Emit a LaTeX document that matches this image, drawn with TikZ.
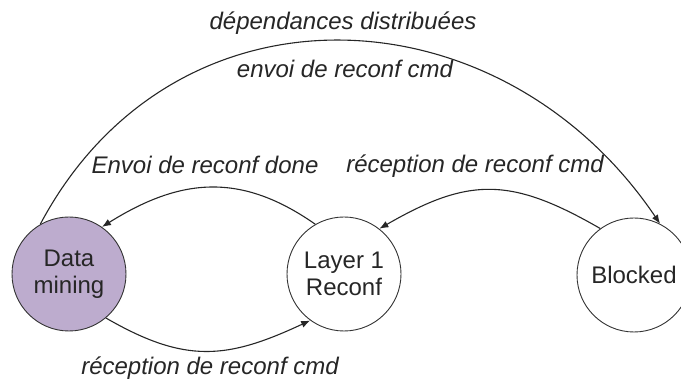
\documentclass[tikz,border=0pt]{standalone}
\usepackage{fontspec}
\setmainfont{Liberation Sans}
\usepackage{xcolor}
\usetikzlibrary{arrows.meta}
\definecolor{mauve}{RGB}{189,172,206}
\tikzstyle{state} = [circle, minimum size=114pt, inner sep=0pt, draw=black!80, line width=0.9pt, align=center, font=\fontsize{24}{27}\selectfont, text=black!85]
\tikzstyle{arrow} = [line width=1.1pt, draw=black!85, ->, >={Latex[length=9pt,width=7pt]}]
\tikzstyle{lbl} = [font=\fontsize{24}{27}\selectfont\itshape, text=black!85, anchor=base]

\begin{document}
\begin{tikzpicture}[x=1pt,y=1pt]
	\useasboundingbox (0,0) rectangle (681,380);
	%States
	\node[state, fill=mauve] (dm) at (69,106) {Data\\mining};
	\node[state] (layer) at (344,106) {Layer 1\\Reconf};
	\node[state] (blk) at (634,105) {Blocked};
	%Distributed dependencies
	\draw[arrow] (dm.120) to[out=62,in=124,looseness=1.18] (blk.63);
	\node[lbl] (dep) at (343,350) {dépendances distribuées};
	\node[lbl] (envoi) at (345,302) {envoi de reconf cmd};
	%Reconf done
	\draw[arrow] (layer.120) to[out=145,in=32,looseness=1.1] (dm.55);
	\node[lbl] (done) at (205,206) {Envoi de reconf done};
	%Blocked to Layer 1
	\draw[arrow] (blk.126) to[out=150,in=30,looseness=1.2] (layer.52);
	\node[lbl] (recup) at (475,207) {réception de reconf cmd};
	%Data mining to Layer 1
	\draw[arrow] (dm.-50) to[out=-30,in=-155,looseness=1.15] (layer.-126);
	\node[lbl] (recdown) at (210,5) {réception de reconf cmd};

\end{tikzpicture}
\end{document}
